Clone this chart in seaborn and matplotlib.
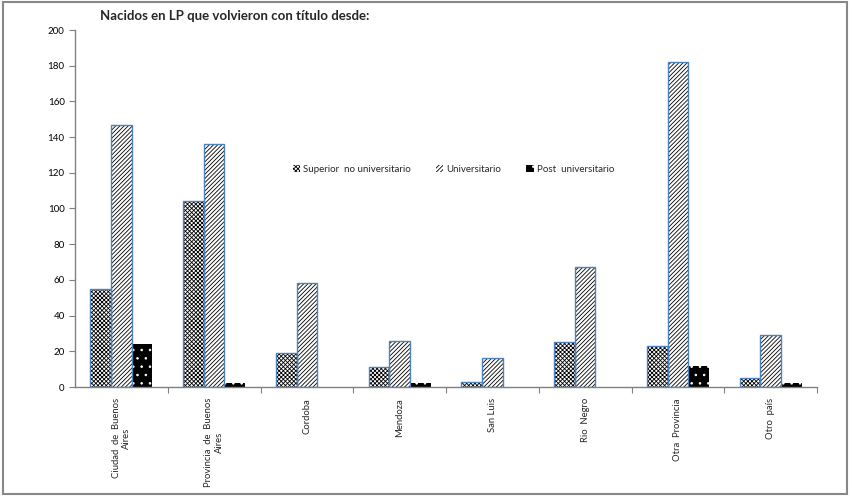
import pandas as pd
import seaborn as sns
import matplotlib.pyplot as plt
from matplotlib.patches import Patch, Rectangle

categorias = ['Ciudad  de  Buenos\nAires', 'Provincia  de  Buenos\nAires', 'Cordoba', 'Mendoza',
              'San Luis', 'Rio  Negro', 'Otra  Provincia', 'Otro  país']
series = ['Superior  no universitario', 'Universitario', 'Post  universitario']
superior = [55, 104, 19, 11, 3, 25, 23, 5]
universitario = [147, 136, 58, 26, 16, 67, 182, 29]
post = [24, 2, 0, 2, 0, 0, 12, 2]

df = pd.DataFrame({
    'categoria': categorias * 3,
    'serie': [series[0]] * 8 + [series[1]] * 8 + [series[2]] * 8,
    'valor': superior + universitario + post,
})

sns.set_style('white')
plt.rcParams['font.family'] = ['Lato', 'DejaVu Sans']
plt.rcParams['hatch.linewidth'] = 0.6

fig = plt.figure(figsize=(8.52, 4.98), dpi=100)
ax = fig.add_axes([75 / 852, 1 - 387 / 498, (817 - 75) / 852, 357 / 498])

estilos = {
    series[0]: dict(face='white', hatch='xxxxxxxx', hcolor='black', edge='#4F81BD'),
    series[1]: dict(face='white', hatch='////////', hcolor='black', edge='#4F81BD'),
    series[2]: dict(face='black', hatch='..', hcolor='white', edge=None),
}

sns.barplot(data=df, x='categoria', y='valor', hue='serie', hue_order=series,
            order=categorias, width=0.67, gap=0, linewidth=0, legend=False, ax=ax, errorbar=None)

# seaborn draws the patches series by series
bars = [p for p in ax.patches]
for i, p in enumerate(bars):
    st = estilos[series[i // len(categorias)]]
    p.set_facecolor(st['face'])
    p.set_edgecolor(st['hcolor'])
    p.set_hatch(st['hatch'])
    p.set_linewidth(0)
    if st['edge'] is not None and p.get_height() > 0:
        ax.add_patch(Rectangle(p.get_xy(), p.get_width(), p.get_height(), fill=False,
                               edgecolor=st['edge'], linewidth=1.0, zorder=p.get_zorder() + 0.1))

ax.set_ylim(0, 200)
ax.set_xlim(-0.5, len(categorias) - 0.5)
ax.set_yticks(range(0, 201, 20))
ax.tick_params(axis='y', labelsize=7, length=4, direction='out', left=True)
ax.set_xticks([i + 0.5 for i in range(len(categorias))])
ax.set_xticklabels([])
ax.tick_params(axis='x', which='major', length=4, direction='out', bottom=True, color='#808080')
ax.set_xticks(range(len(categorias)), minor=True)
ax.set_xticklabels(categorias, minor=True, rotation=90, fontsize=6.8, ha='center', va='top',
                   multialignment='center')
ax.tick_params(axis='x', which='minor', length=0, pad=8)
ax.set_xlabel('')
ax.set_ylabel('')
for s in ['top', 'right']:
    ax.spines[s].set_visible(False)
for s in ['left', 'bottom']:
    ax.spines[s].set_color('#808080')
    ax.spines[s].set_linewidth(1)
ax.tick_params(axis='y', color='#808080', labelcolor='black')

handles = []
for s in series:
    st = estilos[s]
    handles.append(Patch(facecolor=st['face'], edgecolor=st['hcolor'], hatch=st['hatch'], linewidth=0))
ax.legend(handles, series, loc='center', bbox_to_anchor=(0.51, 0.61), ncol=3, frameon=False,
          fontsize=7, handlelength=0.75, handleheight=0.75, handletextpad=0.3, columnspacing=2.6)

fig.text(100 / 852, 1 - 16 / 498, 'Nacidos en LP que volvieron con título desde:', fontsize=9.5,
         fontweight='bold', ha='left', va='center')
fig.patches.append(Rectangle((0.003, 0.008), 0.991, 0.988, transform=fig.transFigure, fill=False,
                             edgecolor='#888888', linewidth=1.5))

fig.savefig('out.png', dpi=100)
